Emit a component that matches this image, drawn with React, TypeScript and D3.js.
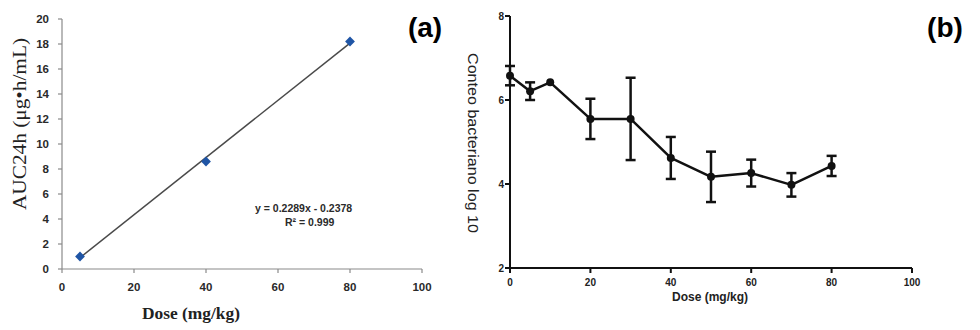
import React from "react";
import * as d3 from "d3";

// Panel (a)
const doseA = [5, 40, 80];
const aucA = [1.0, 8.6, 18.2];
const slopeA = 0.2289;
const interceptA = -0.2378;
const eqText = "y = 0.2289x - 0.2378";
const r2Text = "R² = 0.999";
const yTicksA = [0, 2, 4, 6, 8, 10, 12, 14, 16, 18, 20];
const xTicksA = [0, 20, 40, 60, 80, 100];

// Panel (b)
const doseB = [0, 5, 10, 20, 30, 40, 50, 60, 70, 80];
const countB = [6.58, 6.21, 6.42, 5.55, 5.55, 4.62, 4.17, 4.26, 3.98, 4.43];
const errB = [0.23, 0.21, 0, 0.48, 0.98, 0.5, 0.6, 0.32, 0.28, 0.24];
const yTicksB = [2, 4, 6, 8];
const xTicksB = [0, 20, 40, 60, 80, 100];

export default function App() {
  const xA = d3.scaleLinear().domain([0, 100]).range([62, 422]);
  const yA = d3.scaleLinear().domain([0, 20]).range([269, 19]);
  const xB = d3.scaleLinear().domain([0, 100]).range([510, 912]);
  const yB = d3.scaleLinear().domain([2, 8]).range([268, 16]);

  const diamond = d3.symbol().type(d3.symbolSquare).size(48)();
  const trendX = [d3.min(doseA)!, d3.max(doseA)!];
  const lineB = d3
    .line<number>()
    .x((_, i) => xB(doseB[i]))
    .y((d) => yB(d));

  const axisCol = "#8a8a8a";
  const sansBold = "'Liberation Sans', Arial, sans-serif";

  return (
    <svg
      width={980}
      height={330}
      style={{ position: "absolute", left: 0, top: 0, background: "#fff" }}
    >
      <rect x={0} y={0} width={980} height={330} fill="#fff" />
      {/* ===== Panel (a) ===== */}
      <g>
        <line x1={xA(0)} x2={xA(0)} y1={yA(0)} y2={yA(20)} stroke={axisCol} strokeWidth={1.2} />
        <line x1={xA(0)} x2={xA(100)} y1={yA(0)} y2={yA(0)} stroke={axisCol} strokeWidth={1.2} />
        {yTicksA.map((t) => (
          <g key={"ya" + t}>
            <line x1={xA(0) - 4} x2={xA(0)} y1={yA(t)} y2={yA(t)} stroke={axisCol} strokeWidth={1.2} />
            <text
              x={xA(0) - 13}
              y={yA(t)}
              dy="0.35em"
              textAnchor="end"
              fontFamily={sansBold}
              fontWeight="bold"
              fontSize={11.5}
              fill="#2a2a2a"
            >
              {t}
            </text>
          </g>
        ))}
        {xTicksA.map((t) => (
          <g key={"xa" + t}>
            <line x1={xA(t)} x2={xA(t)} y1={yA(0)} y2={yA(0) + 4} stroke={axisCol} strokeWidth={1.2} />
            <text
              x={xA(t)}
              y={287}
              dy="0.35em"
              textAnchor="middle"
              fontFamily={sansBold}
              fontWeight="bold"
              fontSize={11.5}
              fill="#2a2a2a"
            >
              {t}
            </text>
          </g>
        ))}
        <line
          x1={xA(trendX[0])}
          x2={xA(trendX[1])}
          y1={yA(slopeA * trendX[0] + interceptA)}
          y2={yA(slopeA * trendX[1] + interceptA)}
          stroke="#4a4a4a"
          strokeWidth={1.5}
        />
        {doseA.map((d, i) => (
          <path
            key={"pa" + i}
            d={diamond!}
            transform={`translate(${xA(d)},${yA(aucA[i])}) rotate(45)`}
            fill="#1f55a5"
          />
        ))}
        <text x={255} y={208} dy="0.35em" fontFamily={sansBold} fontWeight="bold" fontSize={10.5} fill="#2a2a2a">
          {eqText}
        </text>
        <text x={285} y={222} dy="0.35em" fontFamily={sansBold} fontWeight="bold" fontSize={10.5} fill="#2a2a2a">
          {r2Text}
        </text>
        <text
          transform={`translate(20,${124}) rotate(-90)`}
          textAnchor="middle"
          dy="0.35em"
          fontFamily="'Liberation Serif', 'Times New Roman', serif"
          fontSize={18.5}
          textLength={172}
          lengthAdjust="spacingAndGlyphs"
          fill="#222"
        >
          AUC24h (μg•h/mL)
        </text>
        <text
          x={191}
          y={313}
          dy="0.35em"
          textAnchor="middle"
          fontFamily="'Liberation Serif', 'Times New Roman', serif"
          fontWeight="bold"
          fontSize={17}
          textLength={98}
          lengthAdjust="spacingAndGlyphs"
          fill="#222"
        >
          Dose (mg/kg)
        </text>
        <text x={425} y={37} textAnchor="middle" fontFamily={sansBold} fontWeight="bold" fontSize={28} fill="#000">
          (a)
        </text>
      </g>

      {/* ===== Panel (b) ===== */}
      <g>
        <line x1={xB(0)} x2={xB(0)} y1={yB(2)} y2={yB(8)} stroke="#111" strokeWidth={2} />
        <line x1={xB(0)} x2={xB(100)} y1={yB(2)} y2={yB(2)} stroke="#111" strokeWidth={2} />
        {yTicksB.map((t) => (
          <g key={"yb" + t}>
            <line x1={xB(0) - 5} x2={xB(0)} y1={yB(t)} y2={yB(t)} stroke="#111" strokeWidth={2} />
            <text
              x={xB(0) - 6}
              y={yB(t)}
              dy="0.35em"
              textAnchor="end"
              fontFamily={sansBold}
              fontWeight="bold"
              fontSize={10}
              fill="#222"
            >
              {t}
            </text>
          </g>
        ))}
        {xTicksB.map((t) => (
          <g key={"xb" + t}>
            <line x1={xB(t)} x2={xB(t)} y1={yB(2)} y2={yB(2) + 5} stroke="#111" strokeWidth={2} />
            <text
              x={xB(t)}
              y={282}
              dy="0.35em"
              textAnchor="middle"
              fontFamily={sansBold}
              fontWeight="bold"
              fontSize={10}
              fill="#222"
            >
              {t}
            </text>
          </g>
        ))}
        <path d={lineB(countB)!} fill="none" stroke="#111" strokeWidth={2.5} strokeLinejoin="round" />
        {doseB.map((d, i) =>
          errB[i] > 0 ? (
            <g key={"eb" + i} stroke="#111" strokeWidth={2.5}>
              <line x1={xB(d)} x2={xB(d)} y1={yB(countB[i] + errB[i])} y2={yB(countB[i] - errB[i])} />
              <line x1={xB(d) - 5} x2={xB(d) + 5} y1={yB(countB[i] + errB[i])} y2={yB(countB[i] + errB[i])} />
              <line x1={xB(d) - 5} x2={xB(d) + 5} y1={yB(countB[i] - errB[i])} y2={yB(countB[i] - errB[i])} />
            </g>
          ) : null
        )}
        {doseB.map((d, i) => (
          <circle key={"cb" + i} cx={xB(d)} cy={yB(countB[i])} r={4} fill="#111" />
        ))}
        <text
          x={710}
          y={297}
          dy="0.35em"
          textAnchor="middle"
          fontFamily={sansBold}
          fontWeight="bold"
          fontSize={12}
          fill="#222"
        >
          Dose (mg/kg)
        </text>
        <text
          transform={`translate(473,143) rotate(90)`}
          textAnchor="middle"
          dy="0.35em"
          fontFamily={sansBold}
          fontSize={15}
          textLength={180}
          lengthAdjust="spacingAndGlyphs"
          fill="#222"
        >
          Conteo bacteriano log 10
        </text>
        <text x={945} y={37} textAnchor="middle" fontFamily={sansBold} fontWeight="bold" fontSize={28} fill="#000">
          (b)
        </text>
      </g>
    </svg>
  );
}
